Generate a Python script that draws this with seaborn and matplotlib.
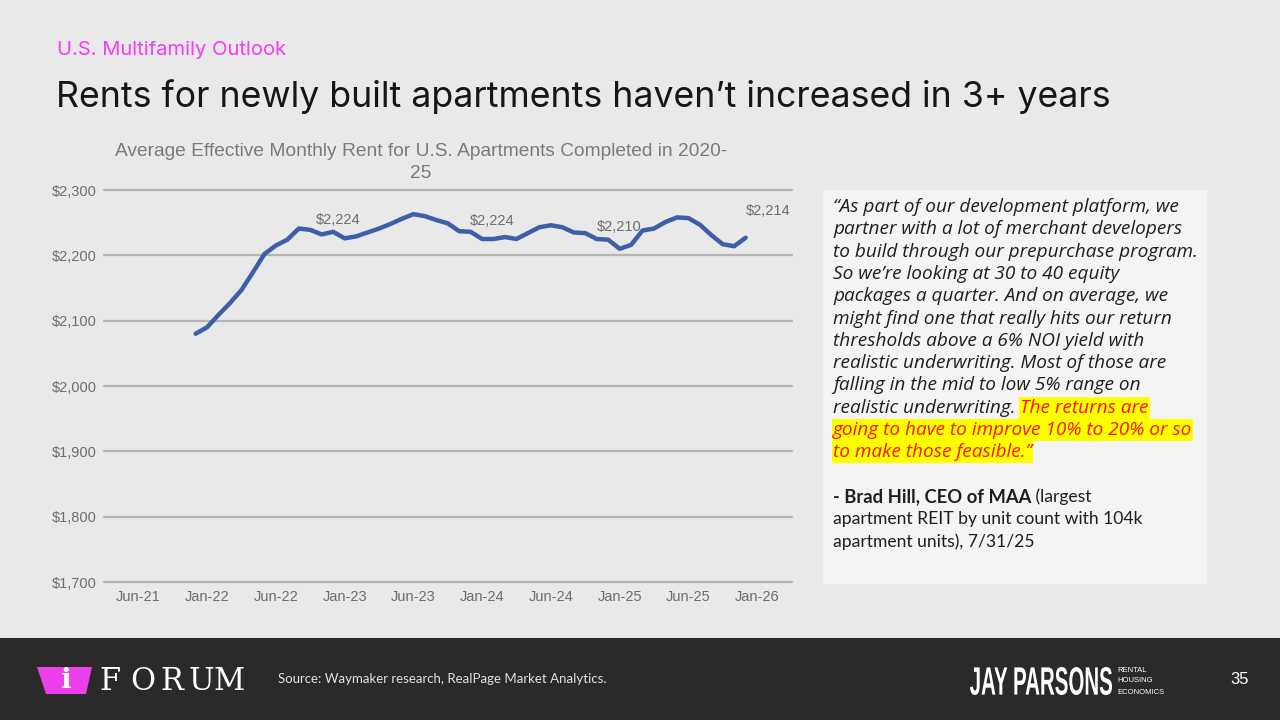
import numpy as np
import pandas as pd
from matplotlib import pyplot as plt
from matplotlib.patches import Rectangle, Polygon, PathPatch
from matplotlib.textpath import TextPath
from matplotlib.font_manager import FontProperties
from matplotlib.transforms import Affine2D, IdentityTransform
import seaborn as sns

# monthly index, 0 = Jan-22
months = list(range(-1, 48))
rent = [2080, 2090, 2109, 2127, 2147, 2174, 2202, 2215, 2224, 2241,
        2239, 2232, 2236, 2226, 2229, 2235, 2241, 2248, 2256, 2263,
        2260, 2254, 2249, 2237, 2236, 2225, 2225, 2228, 2225, 2234,
        2243, 2246, 2243, 2235, 2234, 2225, 2224, 2210, 2216, 2238,
        2241, 2251, 2258, 2257, 2247, 2231, 2217, 2214, 2227]

tick_pos = [-6, 0, 6, 12, 18, 24, 30, 36, 42, 48]
tick_labels = ['Jun-21', 'Jan-22', 'Jun-22', 'Jan-23', 'Jun-23',
               'Jan-24', 'Jun-24', 'Jan-25', 'Jun-25', 'Jan-26']
y_ticks = [1700, 1800, 1900, 2000, 2100, 2200, 2300]

# data labels: (month, text, offset px)
labels = [(12, '$2,224', (-6, 18)), (24, '$2,224', (10, 18)),
          (36, '$2,210', (0, 22)), (47, '$2,214', (22, 27))]

quote_lines = [
    '\u201cAs part of our development platform, we',
    'partner with a lot of merchant developers',
    'to build through our prepurchase program.',
    'So we\u2019re looking at 30 to 40 equity',
    'packages a quarter. And on average, we',
    'might find one that really hits our return',
    'thresholds above a 6% NOI yield with',
    'realistic underwriting. Most of those are',
    'falling in the mid to low 5% range on',
]
quote_split = ('realistic underwriting. ', 'The returns are')
quote_hl = ['going to have to improve 10% to 20% or so',
            'to make those feasible.\u201d']

BG = '#e9e9e9'
LINE = '#3d5ea8'
GREY = '#6e6e6e'

sns.set_style('white')
plt.rcParams['font.family'] = ['Liberation Sans', 'DejaVu Sans']

W, H = 1280, 720
fig = plt.figure(figsize=(12.8, 7.2), dpi=100)
fig.patch.set_facecolor(BG)


def fx(px):
    return px / W


def fy(py):
    return 1 - py / H


def squeezed_text(txt, x0, x1, ytop, ybot, weight='bold'):
    # logo lettering squeezed into a pixel box
    tp = TextPath((0, 0), txt, size=40,
                  prop=FontProperties(family='Liberation Sans', weight=weight))
    ext = tp.get_extents()
    sx = (x1 - x0) / ext.width
    sy = (ybot - ytop) / ext.height
    tr = Affine2D().translate(-ext.x0, -ext.y0).scale(sx, sy).translate(x0, H - ybot)
    fig.patches.append(PathPatch(tr.transform_path(tp), transform=IdentityTransform(),
                                 facecolor='white', edgecolor='none', zorder=2))


# header
fig.text(fx(57), fy(55), 'U.S. Multifamily Outlook', color='#f43cf4',
         fontsize=14.5, family='Inter', va='baseline')
fig.text(fx(56), fy(107), 'Rents for newly built apartments haven\u2019t increased in 3+ years',
         color='#161616', fontsize=25.7, family='Inter', va='baseline')

# chart
ax = fig.add_axes([fx(104), fy(582), fx(791.5) - fx(104), (582 - 190) / H])
ax.set_facecolor('none')
df = pd.DataFrame({'month': months, 'rent': rent})
for v in y_ticks:
    ax.axhline(v, color='#b4b4b4', lw=1.6, zorder=1, clip_on=False)
sns.lineplot(data=df, x='month', y='rent', ax=ax, color=LINE, linewidth=3.2,
             zorder=3)
ax.set_xlim(-9, 51)
ax.set_ylim(1700, 2300)
ax.set_xticks(tick_pos)
ax.set_xticklabels(tick_labels)
ax.set_yticks(y_ticks)
ax.set_yticklabels([f'${v:,}' for v in y_ticks])
ax.tick_params(length=0, colors=GREY, labelsize=10.5)
ax.tick_params(axis='y', pad=5)
ax.tick_params(axis='x', pad=6)
ax.set_xlabel('')
ax.set_ylabel('')
sns.despine(ax=ax, left=True, bottom=True)

for m, txt, (dx, dy) in labels:
    ax.annotate(txt, (m, rent[months.index(m)]), xytext=(dx * 0.72, dy * 0.72),
                textcoords='offset points', ha='center', va='center',
                color=GREY, fontsize=10.5)

fig.text(fx(421), fy(152), 'Average Effective Monthly Rent for U.S. Apartments Completed in 2020-',
         ha='center', va='center', color='#7a7a7a', fontsize=13.8)
fig.text(fx(421), fy(173), '25', ha='center', va='center', color='#7a7a7a',
         fontsize=13.8)

# quote box
fig.patches.append(Rectangle((fx(823), fy(584)), fx(1207) - fx(823), (584 - 190) / H,
                             transform=fig.transFigure, facecolor='#f4f4f4',
                             edgecolor='none', zorder=0))
qx = 833
y0 = 207
step = 22.3
qkw = dict(family='Open Sans', style='italic', fontsize=13.7, va='center',
           color='#1e1e1e')
for i, line in enumerate(quote_lines):
    fig.text(fx(qx), fy(y0 + i * step), line, **qkw)

renderer = fig.canvas.get_renderer()
yl = y0 + 9 * step
t1 = fig.text(fx(qx), fy(yl), quote_split[0], **qkw)
x_end = t1.get_window_extent(renderer).x1
hl_rows = [(x_end, yl, quote_split[1])]
for j, line in enumerate(quote_hl):
    hl_rows.append((qx, y0 + (10 + j) * step, line))
for xs, yy, line in hl_rows:
    t = fig.text(fx(xs), fy(yy), line, zorder=3,
                 **dict(qkw, color='#ff1010'))
    bb = t.get_window_extent(renderer)
    fig.patches.append(Rectangle((fx(bb.x0 - 1), fy(yy + step / 2)),
                                 fx(bb.x1 - bb.x0 + 2), step / H,
                                 transform=fig.transFigure, facecolor='#ffff00',
                                 edgecolor='none', zorder=1))

akw = dict(family='Lato', va='center', color='#1e1e1e')
ya = 497
t2 = fig.text(fx(qx), fy(ya), '- Brad Hill, CEO of MAA', weight='bold',
              fontsize=13.2, **akw)
x_end = t2.get_window_extent(renderer).x1
fig.text(fx(x_end), fy(ya), ' (largest', fontsize=12.6, **akw)
fig.text(fx(qx), fy(ya + step), 'apartment REIT by unit count with 104k',
         fontsize=12.6, **akw)
fig.text(fx(qx), fy(ya + 2 * step), 'apartment units), 7/31/25',
         fontsize=12.6, **akw)

# footer
fig.patches.append(Rectangle((0, 0), 1, 82 / H, transform=fig.transFigure,
                             facecolor='#2a2a2a', edgecolor='none', zorder=0))
fig.patches.append(Polygon([(fx(37), fy(667)), (fx(92), fy(667)), (fx(86), fy(694)),
                            (fx(46), fy(694))], closed=True, transform=fig.transFigure,
                           facecolor='#ea3fea', edgecolor='none', zorder=1))
fig.text(fx(66), fy(681), 'i', color='white', fontsize=20, weight='bold',
         family='DejaVu Serif', ha='center', va='center')
for ch, xc in zip('FORUM', [110, 143, 172, 201, 229]):
    fig.text(fx(xc), fy(681), ch, color='white', fontsize=22,
             family='DejaVu Serif', ha='center', va='center')
fig.text(fx(278), fy(679), 'Source: Waymaker research, RealPage Market Analytics.',
         color='#e0e0e0', fontsize=9.5, family='Lato', va='center')
squeezed_text('JAY PARSONS', 970, 1112, 667, 695)
for k, w in enumerate(['RENTAL', 'HOUSING', 'ECONOMICS']):
    fig.text(fx(1117), fy(670 + 11 * k), w, color='white', fontsize=5.5,
             va='center')
fig.text(fx(1240), fy(680), '35', color='white', fontsize=12, ha='center',
         va='center')

fig.savefig('out.png', dpi=100, facecolor=BG)
